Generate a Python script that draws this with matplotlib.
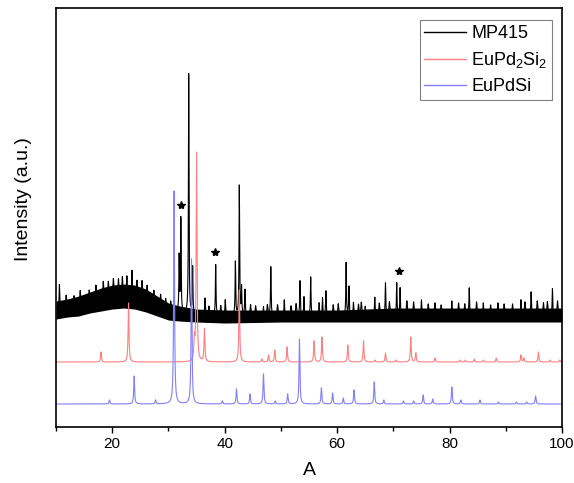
import numpy as np
import matplotlib
matplotlib.use("Agg")
import matplotlib.pyplot as plt

plt.rcParams['font.family'] = ['Liberation Sans', 'DejaVu Sans']
plt.rcParams['mathtext.fontset'] = 'custom'
plt.rcParams['mathtext.rm'] = 'Liberation Sans'

# measured pattern MP415: background centre line and noise envelope
fondo_x = [10, 12, 14, 16, 18, 20, 22, 24, 26, 28, 30, 32, 35, 40, 50, 60, 70, 80, 90, 100]
fondo_y = [118, 120, 122, 125, 128, 130, 131, 130, 127, 122, 117, 115, 113, 112, 112, 112, 113, 113, 113, 113]
ruido_inf = [10, 10, 11, 11, 12, 12, 12, 12, 12, 11, 10, 9, 8, 8, 7, 7, 8, 8, 8, 8]
ruido_sup = [8, 8, 9, 10, 11, 12, 12, 12, 11, 9, 7, 6, 5, 5, 5, 5, 6, 6, 6, 6]

# MP415 peaks (2theta, height above background)
mp_pos = [10.6, 23.5, 31.9, 32.2, 33.6, 34.3, 36.5, 38.4, 40.1, 41.9, 42.6, 43.0, 43.6,
          46.9, 48.2, 50.6, 53.4, 54.1, 55.3, 56.8, 57.4, 58.0, 61.6, 62.1, 62.9, 65.0,
          66.7, 68.6, 70.6, 71.2, 75.0, 80.4, 83.5, 86.0, 92.7, 94.5, 98.3]
mp_alt = [24, 26, 55, 93, 239, 46, 16, 50, 15, 53, 129, 27, 25,
          8, 48, 15, 34, 18, 38, 12, 17, 24, 52, 28, 12, 8,
          17, 31, 31, 26, 14, 13, 26, 11, 14, 22, 25]

# smaller spikes sticking out of the noise of MP415
mp_menor_pos = [11.8, 13.2, 14.3, 15.9, 17.1, 18.4, 19.3, 20.2, 21.1, 21.8, 22.6, 24.4,
                25.3, 26.2, 27.4, 28.6, 29.5, 30.4, 37.2, 39.3, 44.6, 45.5, 47.6, 49.4,
                51.8, 52.7, 59.3, 60.2, 63.8, 64.3, 67.5, 69.3, 72.4, 73.6, 76.2, 77.4,
                78.5, 81.6, 82.7, 84.8, 87.3, 88.6, 89.7, 91.2, 93.4, 95.6, 96.7, 97.4, 99.2]
mp_menor_alt = [12, 10, 14, 12, 15, 17, 16, 18, 17, 19, 20, 17,
                18, 15, 13, 12, 10, 9, 8, 9, 10, 9, 10, 10,
                9, 11, 10, 11, 10, 12, 11, 12, 13, 12, 10, 11,
                9, 11, 10, 12, 9, 11, 10, 10, 12, 13, 11, 12, 13]

# EuPd2Si2 reference pattern
eupd2si2_pos = [18.0, 22.9, 34.6, 35.0, 36.4, 42.6, 46.6, 47.8, 48.9, 51.1, 55.9, 57.3,
                61.9, 64.7, 66.7, 68.6, 70.4, 73.1, 74.0, 77.4, 81.9, 82.8, 84.4, 86.0,
                88.3, 92.7, 93.2, 95.8, 97.9, 99.6]
eupd2si2_alt = [10, 59, 20, 209, 33, 72, 3, 7, 12, 15, 21, 25,
                17, 21, 2, 9, 2, 25, 9, 4, 2, 2, 3, 2,
                4, 7, 4, 10, 2, 2]

# EuPdSi reference pattern
eupdsi_pos = [19.5, 23.9, 27.7, 31.0, 34.1, 39.6, 42.1, 44.5, 46.9, 49.0, 51.2, 53.3,
              57.2, 59.2, 61.1, 63.0, 66.6, 68.3, 71.8, 73.6, 75.3, 77.0, 80.4, 82.0,
              85.4, 88.7, 91.9, 93.7, 95.3]
eupdsi_alt = [4, 28, 4, 213, 145, 3, 15, 10, 30, 3, 10, 65,
              16, 11, 6, 14, 22, 4, 3, 3, 9, 5, 17, 4,
              4, 2, 2, 2, 8]

# vertical offsets of each curve
base_mp = 0
base_eupd2si2 = 65
base_eupdsi = 23

# peaks marked with an asterisk
estrella_x = [32.2, 38.2, 71.0]
estrella_y = [222, 175, 156]

x = np.arange(10, 100.001, 0.01)


def perfil(pos, alt, ancho):
    y = np.zeros_like(x)
    for p, h in zip(pos, alt):
        y += h * ancho ** 2 / ((x - p) ** 2 + ancho ** 2)
    return y


fondo = np.interp(x, fondo_x, fondo_y)
mp415 = base_mp + fondo + perfil(mp_pos, mp_alt, 0.06) + perfil(mp_menor_pos, mp_menor_alt, 0.09)
eupd2si2 = base_eupd2si2 + perfil(eupd2si2_pos, eupd2si2_alt, 0.09)
eupdsi = base_eupdsi + perfil(eupdsi_pos, eupdsi_alt, 0.09)

fig = plt.figure(figsize=(5.74, 4.83), dpi=100)
ax = fig.add_axes([0.0976, 0.116, 0.8815, 0.867])

ax.fill_between(fondo_x, np.array(fondo_y) - np.array(ruido_inf),
                np.array(fondo_y) + np.array(ruido_sup), color="black", lw=0)
ax.plot(x, mp415, color="black", lw=0.8, label="MP415")
ax.plot(x, eupd2si2, color="#ff8080", lw=0.8, label=r"$\mathregular{EuPd_2Si_2}$")
ax.plot(x, eupdsi, color="#8080ff", lw=0.8, label="EuPdSi")
ax.plot(estrella_x, estrella_y, ls="none", marker="*", ms=6, color="black")

ax.set_xlim(10, 100)
ax.set_ylim(0, 419)
ax.set_xticks([20, 40, 60, 80, 100])
ax.set_xticks([10, 30, 50, 70, 90], minor=True)
ax.set_yticks([])
ax.tick_params(axis="x", which="major", direction="out", length=4, width=1, labelsize=11, pad=3)
ax.tick_params(axis="x", which="minor", direction="out", length=3, width=1)
for s in ax.spines.values():
    s.set_linewidth(1.2)

ax.set_xlabel("A", fontsize=14, labelpad=8)
ax.set_ylabel("Intensity (a.u.)", fontsize=14)
ax.yaxis.set_label_coords(-0.047, 0.544)

leg = ax.legend(loc="upper right", bbox_to_anchor=(0.980, 0.971), borderaxespad=0,
                fontsize=13, handlelength=2.3, labelspacing=0.45, fancybox=False,
                framealpha=1, edgecolor="#808080", borderpad=0.25, handletextpad=0.3)
leg.get_frame().set_linewidth(0.8)
for h in leg.get_lines():
    h.set_linewidth(1.0)

plt.savefig("out.png", dpi=100)
